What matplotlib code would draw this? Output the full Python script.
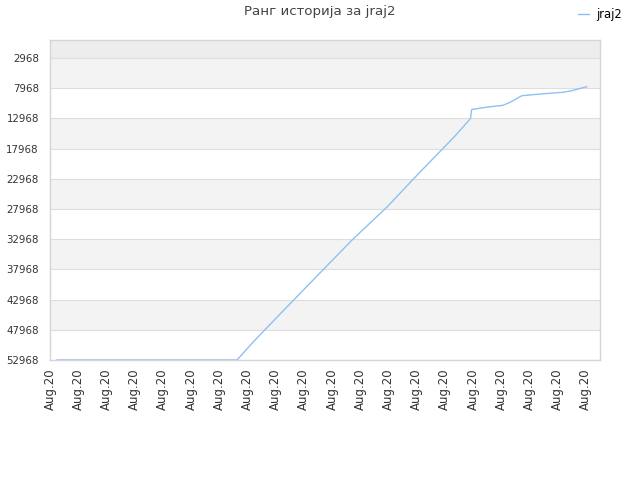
import matplotlib
matplotlib.use("Agg")
import matplotlib.pyplot as plt

# Data (x in tick-index units, rank values)
x_pos = [0.25, 6.63, 7.27, 8.33, 9.57, 10.71, 11.95, 13.12, 14.36, 14.91, 14.95,
         15.53, 16.06, 16.31, 16.73, 17.38, 18.19, 18.50, 19.03]
rank = [52968, 52968, 49657, 44524, 38564, 33101, 27637, 21843, 15883, 12985, 11495,
        11081, 10800, 10304, 9211, 8930, 8649, 8383, 7721]
tick_labels = ["Aug.20"] * 20
y_ticks = [2968, 7968, 12968, 17968, 22968, 27968, 32968, 37968, 42968, 47968, 52968]
series_name = "jraj2"
title = "Ранг историја за jraj2"

fig = plt.figure(figsize=(6.4, 4.8), dpi=100)
ax = fig.add_axes([50/640, 120/480, 550/640, 320/480])

ymin_top = -12
ax.set_ylim(52968, ymin_top)
ax.set_xlim(0, 19.5)

# background bands
ax.axhspan(ymin_top, 2968, color="#ededed", zorder=0, lw=0)
for i in range(len(y_ticks) - 1):
    if i % 2 == 0:
        ax.axhspan(y_ticks[i], y_ticks[i + 1], color="#f3f3f3", zorder=0, lw=0)
for yt in y_ticks:
    ax.axhline(yt, color="#dddddd", lw=0.8, zorder=1)

ax.plot(x_pos, rank, color="#8fc0f2", lw=1.0, zorder=3, label=series_name)

ax.set_yticks(y_ticks)
ax.set_yticklabels([str(v) for v in y_ticks], fontsize=7.4, color="#333333")
ax.set_xticks(range(len(tick_labels)))
ax.set_xticklabels(tick_labels, rotation=90, fontsize=8.5, color="#333333")
ax.tick_params(axis="both", length=0)
ax.tick_params(axis="y", pad=8)
ax.tick_params(axis="x", pad=6)

for s in ax.spines.values():
    s.set_color("#d5d5d5")
    s.set_linewidth(1)

fig.text(0.5, 1 - 12/480, title, ha="center", va="center", fontsize=9.6, color="#444444")
fig.legend(loc="upper right", bbox_to_anchor=(0.985, 1.0), frameon=False, fontsize=8.3,
           handlelength=0.9, handletextpad=0.7, borderaxespad=0.3)

fig.savefig("out.png", dpi=100)
